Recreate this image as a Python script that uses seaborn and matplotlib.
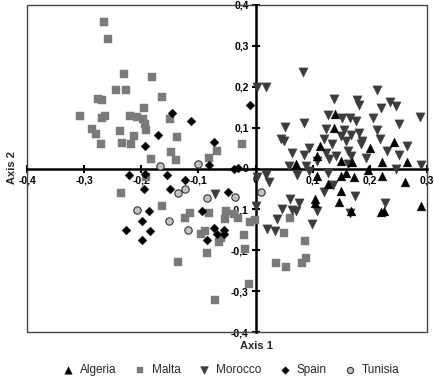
import numpy as np
import pandas as pd
import matplotlib
matplotlib.use("Agg")
import matplotlib.pyplot as plt
from matplotlib.ticker import FuncFormatter
from matplotlib.patches import Rectangle
import seaborn as sns

# Axis 1 / Axis 2 scores
algeria_x = [0.139, 0.137, 0.113, 0.108, 0.070, 0.201, 0.243, 0.150, 0.168, 0.222,
             0.265, 0.196, 0.158, 0.108, 0.127, 0.149, 0.172, 0.222, 0.262, 0.149,
             0.104, 0.104, 0.146, 0.167, 0.219, 0.225, 0.290]
algeria_y = [0.134, 0.100, 0.056, 0.030, 0.011, 0.051, 0.065, 0.018, 0.016, 0.015,
             0.015, -0.004, -0.010, -0.018, -0.039, -0.018, -0.020, -0.018, -0.033, -0.054,
             -0.074, -0.085, -0.082, -0.104, -0.107, -0.105, -0.092]

malta_x = [-0.266, -0.259, -0.231, -0.182, -0.245, -0.226, -0.163, -0.275, -0.268, -0.195,
           -0.308, -0.268, -0.263, -0.219, -0.207, -0.197, -0.194, -0.149, -0.286, -0.280,
           -0.238, -0.212, -0.191, -0.138, -0.271, -0.233, -0.218, -0.148, -0.183, -0.140,
           -0.082, -0.068, -0.191, -0.024, -0.236, -0.164, -0.114, -0.124, -0.082, -0.052,
           -0.038, -0.031, -0.096, -0.088, -0.064, -0.060, -0.053, -0.021, -0.018, -0.085,
           -0.135, -0.012, -0.071, -0.009, -0.001, 0.061, 0.050, 0.087, 0.035, 0.053,
           0.082, 0.088]
malta_y = [0.359, 0.316, 0.230, 0.224, 0.193, 0.191, 0.174, 0.169, 0.167, 0.149,
           0.129, 0.124, 0.128, 0.128, 0.125, 0.120, 0.110, 0.121, 0.096, 0.085,
           0.091, 0.080, 0.093, 0.076, 0.061, 0.063, 0.059, 0.041, 0.024, 0.022,
           0.025, 0.043, -0.021, 0.059, -0.061, -0.092, -0.109, -0.120, -0.110, -0.104,
           -0.112, -0.120, -0.161, -0.153, -0.181, -0.171, -0.124, -0.163, -0.198, -0.206,
           -0.228, -0.283, -0.321, -0.132, -0.127, -0.122, -0.157, -0.177, -0.230, -0.242,
           -0.232, -0.220]

morocco_x = [0.003, 0.018, 0.083, 0.137, 0.178, 0.181, 0.213, 0.236, 0.246, 0.288,
             0.126, 0.165, 0.175, 0.206, 0.220, 0.251, 0.051, 0.084, 0.123, 0.151,
             0.154, 0.044, 0.050, 0.063, 0.085, 0.094, 0.120, 0.133, 0.149, 0.158,
             0.167, 0.181, 0.187, 0.213, 0.218, 0.230, 0.251, 0.265, 0.108, 0.123,
             0.140, 0.161, 0.167, 0.184, 0.193, 0.058, 0.088, 0.094, 0.161, 0.289,
             0.003, 0.018, 0.073, 0.126, 0.246, 0.129, 0.024, 0.136, 0.119, 0.174,
             0.000, 0.060, 0.076, 0.046, 0.064, 0.070, 0.108, 0.038, 0.165, 0.227,
             0.099, 0.020, 0.034, -0.071]
morocco_y = [0.199, 0.199, 0.237, 0.170, 0.168, 0.156, 0.191, 0.162, 0.154, 0.126,
             0.132, 0.123, 0.115, 0.124, 0.148, 0.109, 0.101, 0.111, 0.097, 0.124,
             0.095, 0.072, 0.067, 0.039, 0.032, 0.050, 0.072, 0.059, 0.079, 0.067,
             0.083, 0.087, 0.067, 0.095, 0.071, 0.042, 0.034, 0.054, 0.018, 0.038,
             0.030, 0.042, 0.030, 0.059, 0.026, 0.006, 0.007, -0.007, 0.010, 0.008,
             -0.020, -0.017, -0.015, -0.011, -0.002, 0.024, -0.033, -0.041, -0.057, -0.068,
             -0.092, -0.074, -0.084, -0.100, -0.102, -0.104, -0.105, -0.123, -0.110, -0.084,
             -0.135, -0.148, -0.154, -0.063]

spain_x = [-0.146, -0.113, -0.171, -0.194, -0.073, -0.082, -0.222, -0.193, -0.155, -0.124,
           -0.010, -0.038, -0.031, -0.195, -0.149, -0.187, -0.199, -0.184, -0.227, -0.198,
           -0.094, -0.073, -0.067, -0.056, -0.056, -0.085, -0.049]
spain_y = [0.137, 0.117, 0.082, 0.056, 0.066, 0.008, -0.015, -0.013, -0.016, -0.027,
           0.156, 0.000, 0.001, -0.050, -0.051, -0.104, -0.129, -0.154, -0.150, -0.175,
           -0.104, -0.145, -0.161, -0.150, -0.161, -0.176, -0.058]

tunisia_x = [-0.167, -0.101, -0.123, -0.135, -0.085, -0.208, -0.151, -0.118, -0.036, 0.009]
tunisia_y = [0.006, 0.011, -0.050, -0.059, -0.071, -0.102, -0.128, -0.151, -0.069, -0.058]

countries = ["Algeria", "Malta", "Morocco", "Spain", "Tunisia"]
x_ticks = [-0.4, -0.3, -0.2, -0.1, 0.0, 0.1, 0.2, 0.3]
y_ticks = [-0.4, -0.3, -0.2, -0.1, 0.0, 0.1, 0.2, 0.3, 0.4]

frames = []
for name, xs, ys in [("Algeria", algeria_x, algeria_y), ("Malta", malta_x, malta_y),
                     ("Morocco", morocco_x, morocco_y), ("Spain", spain_x, spain_y),
                     ("Tunisia", tunisia_x, tunisia_y)]:
    frames.append(pd.DataFrame({"axis1": xs, "axis2": ys, "country": name}))
df = pd.concat(frames, ignore_index=True)

# marker styles per group
styles = {
    "Malta":   dict(marker="s", color="#7a7a7a", edgecolor="#7a7a7a", s=28, lw=0.3),
    "Morocco": dict(marker="v", color="#3c3c3c", edgecolor="#3c3c3c", s=44, lw=0.3),
    "Algeria": dict(marker="^", color="#000000", edgecolor="#000000", s=40, lw=0.3),
    "Spain":   dict(marker="D", color="#000000", edgecolor="#000000", s=20, lw=0.3),
    "Tunisia": dict(marker="o", color="#c4c4c4", edgecolor="#333333", s=28, lw=0.8),
}

sns.set_style("white")
plt.rcParams["font.family"] = ["Liberation Sans", "DejaVu Sans"]

fig = plt.figure(figsize=(4.35, 3.83), dpi=100)
ax = fig.add_axes([27 / 435, 51 / 383, 400 / 435, 327 / 383])

for name in ["Malta", "Morocco", "Algeria", "Spain", "Tunisia"]:
    st = styles[name]
    sub = df[df["country"] == name]
    sns.scatterplot(data=sub, x="axis1", y="axis2", ax=ax, marker=st["marker"],
                    color=st["color"], edgecolor=st["edgecolor"], s=st["s"],
                    linewidth=st["lw"], label=name, legend=False, zorder=3)

ax.set_xlim(-0.4, 0.3)
ax.set_ylim(-0.4, 0.4)

# axes crossing at the origin, plus a thin box round the plot
for side in ["left", "bottom"]:
    ax.spines[side].set_position(("data", 0))
    ax.spines[side].set_linewidth(1.8)
    ax.spines[side].set_color("black")
for side in ["top", "right"]:
    ax.spines[side].set_visible(False)
ax.add_patch(Rectangle((0, 0), 1, 1, transform=ax.transAxes, fill=False,
                       edgecolor="#444444", linewidth=1.0, clip_on=False, zorder=1))

fmt = FuncFormatter(lambda v, _: "0" if abs(v) < 1e-9 else f"{v:.1f}".replace(".", ","))
ax.set_xticks(x_ticks)
ax.set_yticks(y_ticks)
ax.xaxis.set_major_formatter(fmt)
ax.yaxis.set_major_formatter(fmt)
ax.tick_params(axis="both", direction="inout", length=6, width=1.5, color="black",
               labelsize=7.5, labelcolor="black", pad=2, bottom=True, left=True)
for lab in ax.get_xticklabels() + ax.get_yticklabels():
    lab.set_fontweight("bold")
ax.set_xlabel("")
ax.set_ylabel("")

fig.text(256 / 435, 1 - 346 / 383, "Axis 1", ha="center", va="center",
         fontsize=8, fontweight="bold")
fig.text(12 / 435, 1 - 168 / 383, "Axis 2", ha="center", va="center",
         fontsize=8, fontweight="bold", rotation=90)

h, l = ax.get_legend_handles_labels()
order = [l.index(c) for c in countries]
fig.legend([h[i] for i in order], [l[i] for i in order], loc="center",
           bbox_to_anchor=(231 / 435, 13 / 383), ncol=5, frameon=False,
           fontsize=8.5, handletextpad=0.5, columnspacing=1.5, markerscale=0.85,
           handlelength=1.0)

fig.savefig("out.png", dpi=100)
